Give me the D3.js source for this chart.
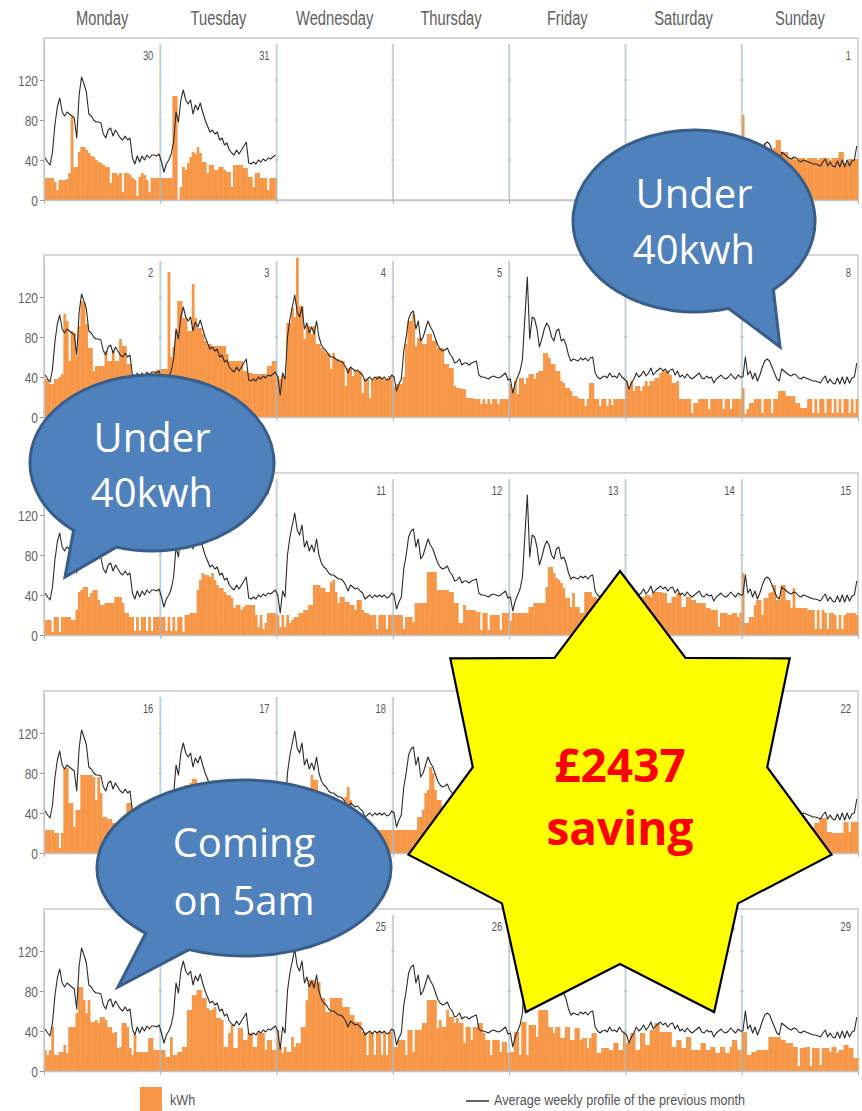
<!DOCTYPE html>
<html><head><meta charset="utf-8">
<script src="https://cdn.jsdelivr.net/npm/d3@7"></script>
<style>
html,body{margin:0;padding:0;background:#fff;}
svg{display:block;}
.narrow{font-family:"Liberation Sans",Arial,sans-serif;}
</style></head><body>
<svg id="chart" width="862" height="1111"></svg>
<script>
// ---------------- DATA ----------------
const dayNames = ["Monday","Tuesday","Wednesday","Thursday","Friday","Saturday","Sunday"];
const yTicks = [0,40,80,120];
const weekDates = [
  [30,31,null,null,null,null,1],
  [2,3,4,5,6,7,8],
  [9,10,11,12,13,14,15],
  [16,17,18,19,20,21,22],
  [23,24,25,26,27,28,29]
];
// Average weekly profile of the previous month (half-hourly, kWh)
const profileMon = [42,38,35,48,75,93,102,88,84,88,86,84,82,62,105,123,116,108,86,84,80,78,78,77,66,62,70,72,64,70,66,62,60,64,60,62,42,36,44,38,44,40,45,42,45,45,44,46];
const profileTue = [38,28,36,40,46,58,88,78,100,110,100,96,100,86,95,90,97,88,80,74,68,70,66,68,60,62,55,57,50,47,45,50,46,50,54,58,37,36,38,36,40,38,41,39,42,41,43,45];
const profileWed = [40,22,44,38,80,98,110,122,105,100,110,88,94,84,90,83,96,80,72,68,66,62,60,60,58,56,56,54,50,44,50,48,46,47,44,42,36,38,40,37,40,38,40,38,40,37,38,42];
const profileThu = [40,26,33,38,66,80,98,104,106,88,96,76,80,88,96,90,86,79,72,68,66,67,69,63,60,54,55,58,52,54,54,52,54,55,56,42,40,40,39,38,40,41,40,39,40,42,44,37];
const profileFri = [38,24,34,40,46,58,100,140,78,100,98,88,70,78,88,94,90,80,76,86,88,76,78,72,62,56,58,57,56,59,57,59,56,59,60,44,40,38,40,41,39,44,40,41,39,44,40,38];
const profileSat = [36,28,34,38,44,40,42,46,41,44,49,42,45,47,49,46,48,44,47,48,42,46,40,42,39,43,40,38,40,42,44,39,38,41,39,40,34,38,40,42,39,38,40,43,40,38,42,40];
const profileSun = [40,60,42,46,38,44,36,42,50,56,58,56,50,44,38,36,48,46,44,42,41,43,42,39,38,40,39,38,37,36,36,35,34,38,41,34,38,34,33,39,33,40,33,40,34,39,40,54];
const profile = [profileMon,profileTue,profileWed,profileThu,profileFri,profileSat,profileSun];

// kWh per half hour, one array per day
const week1 = [
  [22,22,22,22,18,10,20,20,20,21,27,83,33,33,48,53,53,50,47,44,43,40,38,37,35,33,33,17,27,27,25,27,8,27,27,25,22,20,4,23,27,25,20,8,22,22,22,22],
  [22,22,22,22,22,104,104,0,13,33,30,37,43,48,46,53,47,38,38,27,35,35,30,30,33,33,30,28,28,13,35,35,35,35,32,32,23,23,13,27,27,22,22,22,10,22,22,22],
  null, null, null, null,
  [85,40,40,42,42,40,42,55,52,56,52,50,50,52,60,60,48,48,48,42,42,42,40,42,42,42,40,42,42,42,42,40,42,42,42,42,40,42,42,42,48,48,37,37,41,41,41,41]
];
const week2 = [
  [38,38,33,33,38,38,40,43,103,96,56,86,84,61,91,116,114,93,69,69,46,51,51,51,51,66,56,56,66,56,56,78,71,71,53,53,42,40,40,42,40,42,44,44,44,44,47,47],
  [48,48,48,145,60,70,86,116,116,99,99,86,86,133,99,89,89,83,76,73,73,71,71,71,71,71,71,63,56,56,56,56,56,56,46,46,44,44,43,43,43,43,43,43,51,51,56,56],
  [41,38,41,41,94,94,109,100,159,111,111,78,91,91,83,91,73,73,69,66,64,64,48,64,58,58,56,56,31,49,49,41,46,46,46,24,38,38,19,38,38,41,41,38,38,38,41,41],
  [30,33,33,33,40,73,96,96,103,71,79,79,73,73,83,83,76,76,69,69,69,53,53,49,49,31,29,29,28,28,19,19,19,18,18,18,13,18,13,18,13,18,18,13,18,18,18,18],
  [33,26,36,23,39,39,33,39,43,43,38,44,46,46,64,64,59,53,53,46,46,36,34,29,29,26,21,21,19,18,18,11,18,34,34,18,18,11,18,18,11,18,12,18,18,18,18,18],
  [36,30,36,26,31,31,26,31,36,31,36,36,39,39,44,46,46,46,42,34,34,36,18,18,18,18,18,4,14,14,18,18,18,18,8,18,18,18,18,18,8,18,18,8,18,18,18,18],
  [29,3,8,14,14,18,18,18,4,18,18,18,4,18,18,26,26,26,21,21,21,21,14,14,9,9,9,18,18,4,18,4,18,18,4,18,18,4,18,4,18,4,18,18,4,18,4,18]
];
const week3 = [
  [15,15,15,3,18,18,3,18,18,18,18,15,15,25,43,45,48,48,38,42,45,45,35,30,30,32,32,32,32,38,38,38,32,22,22,18,18,4,18,4,18,18,4,18,4,18,18,18],
  [18,18,4,18,4,18,4,18,18,3,20,20,22,22,22,45,55,62,60,60,58,62,55,50,47,47,43,40,40,37,27,30,30,25,28,30,30,30,30,20,8,20,6,12,22,22,22,22],
  [20,8,20,8,20,12,15,18,18,22,22,25,25,30,30,50,50,50,47,47,43,43,53,55,43,32,38,38,33,33,30,30,25,35,35,25,22,22,20,20,20,6,20,20,20,6,20,20],
  [20,20,20,20,6,18,18,18,13,32,32,32,32,32,63,63,63,63,45,45,45,45,45,43,43,32,32,12,12,30,25,25,25,25,23,23,5,22,22,5,20,20,20,20,5,22,22,22],
  [14,22,22,22,22,22,22,22,28,28,32,32,32,32,32,48,68,68,62,57,55,52,47,37,37,28,42,28,28,22,22,43,43,43,38,38,36,36,34,34,32,32,30,30,30,30,30,30],
  [35,35,35,42,42,38,38,38,40,40,38,43,43,43,43,42,42,32,32,38,38,42,42,28,28,38,38,35,35,32,32,32,32,27,27,25,25,25,8,22,22,22,20,20,22,22,18,22],
  [62,12,12,18,18,30,35,35,20,37,37,42,43,50,35,35,50,50,35,35,27,47,27,27,27,27,27,25,25,25,6,25,6,25,22,6,22,22,20,6,20,6,20,22,22,22,22,20]
];
const week4 = [
  [23,23,23,23,20,20,5,20,85,85,50,50,26,43,43,78,78,78,78,78,76,53,76,60,36,36,34,34,30,30,28,28,30,30,50,50,30,28,26,25,24,24,24,22,22,22,22,22],
  [22,22,20,22,25,30,35,45,55,62,68,68,70,74,74,70,70,68,62,58,55,52,50,48,45,45,42,40,40,38,35,32,30,30,28,28,26,26,25,25,24,24,24,22,22,22,22,22],
  [25,22,22,25,28,30,30,32,35,36,40,42,45,50,78,73,73,61,61,58,58,52,50,48,48,45,46,45,56,66,53,44,40,36,28,25,23,23,23,23,23,23,23,23,23,23,23,23],
  [23,23,23,23,23,23,23,23,23,23,36,36,43,60,63,86,80,63,53,53,45,45,40,38,35,32,30,28,26,25,24,24,24,22,22,22,22,22,22,22,22,22,22,22,22,22,22,22],
  [22,22,22,22,22,24,26,28,30,32,34,36,40,46,56,64,64,58,54,50,46,42,38,34,30,28,26,24,22,22,22,22,22,22,22,22,22,22,22,22,22,22,22,22,22,22,22,22],
  [30,30,32,34,36,36,38,38,40,40,42,42,42,40,40,38,38,36,36,34,34,32,32,30,30,28,28,26,26,24,24,22,22,22,22,22,22,22,22,22,22,22,22,22,22,22,22,22],
  [40,20,18,22,25,30,35,38,40,42,45,40,38,35,30,28,25,25,24,24,24,22,20,22,20,22,24,24,26,26,30,30,35,35,35,21,21,20,20,20,20,20,31,31,21,31,31,31]
];
const week5 = [
  [21,16,21,44,16,16,19,19,26,18,44,44,44,58,84,84,71,58,71,49,49,51,48,54,54,51,44,44,38,39,23,24,48,48,44,23,16,36,19,19,19,19,19,33,33,21,21,21],
  [21,21,14,14,34,16,16,19,19,24,24,61,61,76,76,81,81,73,73,63,61,61,64,53,53,51,24,24,38,46,23,23,43,43,31,31,38,38,24,24,38,38,38,21,31,31,21,21],
  [41,24,18,24,19,19,34,24,28,28,44,44,71,91,91,91,89,89,73,73,59,59,73,73,73,73,73,64,64,64,56,56,49,49,49,39,39,16,39,39,16,39,39,16,39,16,39,39],
  [24,24,31,31,31,16,41,41,19,41,41,41,48,48,71,71,71,71,43,51,44,44,61,54,54,48,53,48,48,28,44,44,31,44,44,48,48,38,31,31,16,31,31,31,19,29,29,18],
  [19,19,39,39,16,49,49,16,46,46,46,34,61,61,61,61,44,44,38,44,44,33,33,44,44,31,31,43,43,31,33,33,23,33,38,38,18,18,23,23,23,21,21,28,28,21,21,39],
  [28,28,38,38,21,21,38,38,26,26,41,41,48,48,39,39,39,39,39,24,24,31,31,23,23,34,34,21,21,21,21,28,28,21,21,24,24,18,18,24,24,18,18,24,31,31,21,21],
  [39,39,16,16,19,19,21,21,21,21,21,34,34,34,34,34,31,31,28,28,28,24,24,5,23,23,24,24,5,23,23,23,6,23,23,23,19,24,24,18,21,21,26,26,23,23,13,13]
];
const weeks = [week1, week2, week3, week4, week5];
const legendLabels = ["kWh", "Average weekly profile of the previous month"];
const calloutTexts = [["Under","40kwh"],["Under","40kwh"],["Coming","on 5am"]];
const starTexts = ["£2437","saving"];

// ---------------- LAYOUT ----------------
const svg = d3.select("#chart");
const left = 44, right = 858;
const baselines = [200, 417, 635, 853, 1071];
const plotH = 162;
const PER_DAY = 48;
const ORANGE = "#F79646";
const x = d3.scaleLinear().domain([0, 7*PER_DAY]).range([left, right]);
const step = x(1) - x(0);

// condensed text helper: places text at (px,py) squeezed horizontally
function squeeze(sel, px, py, sx){
  sel.attr("x",0).attr("y",0)
     .attr("transform",(d,i)=>`translate(${typeof px==="function"?px(d,i):px},${typeof py==="function"?py(d,i):py}) scale(${sx},1)`);
}

// day names header
svg.append("g").selectAll("text").data(dayNames).join("text")
  .attr("class","narrow")
  .attr("text-anchor","middle")
  .attr("font-size",21)
  .attr("fill","#606060")
  .text(d=>d)
  .call(squeeze,(d,i)=>x(i*PER_DAY + PER_DAY/2),25,0.7);

const line = d3.line()
  .defined(p=>p.v!=null)
  .x(p=>x(p.k))
  .y(p=>p.yv);

weeks.forEach((week, r) => {
  const base = baselines[r];
  const top = base - plotH;
  const y = d3.scaleLinear().domain([0,160]).range([base, base-160]);
  const g = svg.append("g");

  // panel frame
  g.append("rect").attr("x",left).attr("y",top).attr("width",right-left).attr("height",plotH)
    .attr("fill","#fff").attr("stroke","#cdcdcd").attr("stroke-width",1.6);

  // bars
  const bars = [];
  week.forEach((day,d)=>{ if(day) day.forEach((v,i)=>bars.push({k:d*PER_DAY+i, v})); });
  g.append("g").selectAll("rect").data(bars).join("rect")
    .attr("x",b=>x(b.k)).attr("width",step+0.35)
    .attr("y",b=>y(b.v)).attr("height",b=>base-y(b.v))
    .attr("fill",ORANGE);

  // day dividers
  const divs = d3.range(1,7);
  g.append("g").selectAll("line").data(divs).join("line")
    .attr("x1",d=>x(d*PER_DAY)-0.5).attr("x2",d=>x(d*PER_DAY)-0.5)
    .attr("y1",top+6).attr("y2",base)
    .attr("stroke","#f4b48c").attr("stroke-width",1).attr("opacity",0.7);
  g.append("g").selectAll("line").data(divs).join("line")
    .attr("x1",d=>x(d*PER_DAY)+0.5).attr("x2",d=>x(d*PER_DAY)+0.5)
    .attr("y1",top+6).attr("y2",base)
    .attr("stroke","#7fc8ec").attr("stroke-width",1).attr("opacity",0.85);
  // small tick marks on dividers
  divs.forEach(d=>{
    g.append("g").selectAll("line").data(yTicks.slice(1)).join("line")
      .attr("x1",x(d*PER_DAY)-1.5).attr("x2",x(d*PER_DAY)+2)
      .attr("y1",t=>y(t)).attr("y2",t=>y(t))
      .attr("stroke","#b9b9b9").attr("stroke-width",1);
  });

  // left axis
  const ax = g.append("g").attr("transform",`translate(${left},0)`)
    .call(d3.axisLeft(y).tickValues(yTicks).tickSize(4).tickSizeOuter(0).tickPadding(2));
  ax.select(".domain").attr("stroke","#c4c4c4");
  ax.selectAll(".tick line").attr("stroke","#9a9a9a");
  ax.selectAll(".tick text").attr("class","narrow").attr("font-size",15).attr("fill","#666")
    .attr("dy","0.35em").call(squeeze,-6,0,0.8);

  // bottom axis ticks at day boundaries
  const bx = g.append("g").attr("transform",`translate(0,${base})`)
    .call(d3.axisBottom(x).tickValues(d3.range(0,8).map(d=>d*PER_DAY)).tickSize(4).tickSizeOuter(0).tickFormat(""));
  bx.select(".domain").attr("stroke","#c4c4c4").attr("stroke-width",1.6);
  bx.selectAll(".tick line").attr("stroke","#b0b0b0");

  // profile line
  const pts = [];
  for(let d=0; d<7; d++){
    for(let i=0;i<PER_DAY;i++){
      const v = week[d] ? profile[d][i] : null;
      pts.push({k:d*PER_DAY+i+0.5, v, yv: v==null?null:y(v)});
    }
  }
  g.append("path").datum(pts).attr("d",line)
    .attr("fill","none").attr("stroke","#2b2b2b").attr("stroke-width",1.1)
    .attr("stroke-linejoin","round");

  // day numbers
  g.append("g").selectAll("text").data(weekDates[r].map((n,d)=>({n,d})).filter(o=>o.n!=null)).join("text")
    .attr("class","narrow")
    .attr("text-anchor","end")
    .attr("font-size",13)
    .attr("fill","#555")
    .text(o=>o.n)
    .call(squeeze,o=>x((o.d+1)*PER_DAY)-7,top+22,0.72);
});

// legend
const lg = svg.append("g");
lg.append("rect").attr("x",140).attr("y",1087).attr("width",22).attr("height",24).attr("fill",ORANGE);
lg.append("text").attr("class","narrow").attr("font-size",15).attr("fill","#555").text(legendLabels[0])
  .call(squeeze,170,1105,0.84);
lg.append("line").attr("x1",466).attr("x2",489).attr("y1",1101).attr("y2",1101).attr("stroke","#333").attr("stroke-width",1.5);
lg.append("text").attr("class","narrow").attr("font-size",15).attr("fill","#555").text(legendLabels[1])
  .call(squeeze,494,1105,0.84);

// callouts (oval speech bubbles)
const callouts = [
  {cx:694, cy:221, rx:121, ry:91, a1:49, a2:73.5, tip:[780,347], ys:[208,264]},
  {cx:152, cy:463, rx:122, ry:88, a1:107, a2:130, tip:[65,577], ys:[452,507]},
  {cx:244, cy:868, rx:147, ry:88, a1:112, a2:132, tip:[118,987], ys:[857,915]}
];
const rad = a=>a*Math.PI/180;
callouts.forEach((c,ci)=>{
  const p = a=>[c.cx + c.rx*Math.cos(rad(a)), c.cy + c.ry*Math.sin(rad(a))];
  const [sx,sy] = p(c.a2), [ex,ey] = p(c.a1);
  const d = `M${sx},${sy} A${c.rx},${c.ry} 0 1 1 ${ex},${ey} L${c.tip[0]},${c.tip[1]} Z`;
  const g = svg.append("g");
  g.append("path").attr("d",d).attr("fill","#4F81BD").attr("stroke","#385D8A").attr("stroke-width",3).attr("stroke-linejoin","miter");
  g.selectAll("text").data(calloutTexts[ci]).join("text")
    .attr("x",c.cx).attr("y",(t,i)=>c.ys[i])
    .attr("text-anchor","middle")
    .attr("font-family","'Open Sans', sans-serif")
    .attr("font-size",40).attr("fill","#fff")
    .text(t=>t);
});

// 7-point star
const star = {cx:620, cy:803, ro:[217,232], ri:[151,161]};
const starPts = d3.range(14).map(k=>{
  const a = rad(-90 + k*180/7);
  const r = k%2===0 ? star.ro : star.ri;
  return [star.cx + r[0]*Math.cos(a), star.cy + r[1]*Math.sin(a)];
});
svg.append("path").attr("d", d3.line()(starPts)+"Z")
  .attr("fill","#FFFF00").attr("stroke","#000").attr("stroke-width",2.2).attr("stroke-linejoin","miter");
svg.append("g").selectAll("text").data(starTexts).join("text")
  .attr("x",620).attr("y",(t,i)=>[782,845][i])
  .attr("text-anchor","middle")
  .attr("font-family","'Open Sans', sans-serif").attr("font-weight","bold")
  .attr("font-size",46).attr("fill","#FF0000")
  .text(t=>t);
</script>
</body></html>
